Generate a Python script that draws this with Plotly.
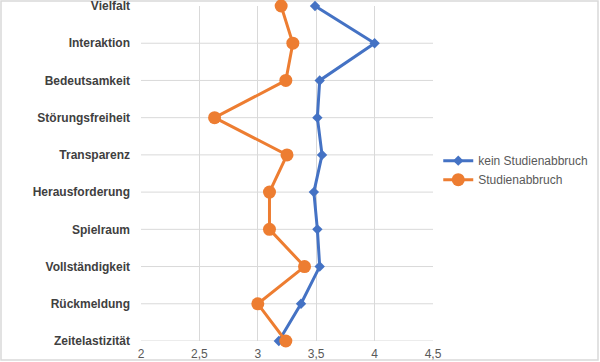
import plotly.graph_objects as go

categories = ["Vielfalt", "Interaktion", "Bedeutsamkeit", "Störungsfreiheit", "Transparenz",
              "Herausforderung", "Spielraum", "Vollständigkeit", "Rückmeldung", "Zeitelastizität"]
kein_abbruch = [3.49, 4.00, 3.53, 3.51, 3.55, 3.48, 3.51, 3.53, 3.37, 3.18]
abbruch = [3.20, 3.30, 3.24, 2.63, 3.25, 3.10, 3.10, 3.40, 3.00, 3.24]
x_ticks = [2, 2.5, 3, 3.5, 4, 4.5]

n = len(categories)
ypos = [n - 1 - i for i in range(n)]  # top category at top

fig = go.Figure()
fig.add_trace(go.Scatter(
    x=kein_abbruch, y=ypos, mode="lines+markers", name="kein Studienabbruch",
    line=dict(color="#4472C4", width=3),
    marker=dict(symbol="diamond", size=8, color="#4472C4"),
    cliponaxis=False,
))
fig.add_trace(go.Scatter(
    x=abbruch, y=ypos, mode="lines+markers", name="Studienabbruch",
    line=dict(color="#ED7D31", width=3),
    marker=dict(symbol="circle", size=13, color="#ED7D31"),
    cliponaxis=False,
))

grid = "#D9D9D9"
shapes = []
for yp in ypos:
    if yp == n - 1:
        continue
    shapes.append(dict(type="line", xref="paper", yref="y", x0=0, x1=1, y0=yp, y1=yp,
                       line=dict(color=grid, width=1), layer="below"))
# outer frame of the picture
L, R, T, B = 141, 167, 6, 21
W, H = 600, 362
pw, ph = W - L - R, H - T - B
shapes.append(dict(type="rect", xref="paper", yref="paper",
                   x0=(1 - L) / pw, x1=(W - 2 - L) / pw,
                   y0=(H - B - (H - 2)) / ph, y1=(H - B - 1) / ph,
                   line=dict(color="#D9D9D9", width=1.5), layer="below"))

fig.update_layout(
    width=W, height=H,
    margin=dict(l=L, r=R, t=T, b=B, pad=0, autoexpand=False),
    paper_bgcolor="white", plot_bgcolor="white",
    separators=",.",
    font=dict(family="Liberation Sans, Arial, sans-serif", size=12, color="#595959"),
    xaxis=dict(range=[2, 4.5], tickvals=x_ticks, showgrid=True, gridcolor=grid, gridwidth=1,
               zeroline=False, showline=False, ticks="", tickfont=dict(size=12, color="#595959"),
               ticklabeloverflow="allow", automargin=False, ticklabelstandoff=4),
    yaxis=dict(range=[0, n - 1], tickvals=ypos, ticktext=["<b>%s</b>" % c for c in categories],
               showgrid=False, zeroline=False, showline=False, ticks="",
               ticklabelstandoff=10, tickfont=dict(size=12, color="#404040"),
               ticklabeloverflow="allow", automargin=False),
    legend=dict(x=1.018, y=0.51, xanchor="left", yanchor="middle", bgcolor="rgba(0,0,0,0)",
                font=dict(size=12, color="#595959"), tracegroupgap=0, itemwidth=30),
    shapes=shapes,
)

fig.write_html("out.html", config={"displayModeBar": False},
               post_script="document.body.style.margin='0';")
